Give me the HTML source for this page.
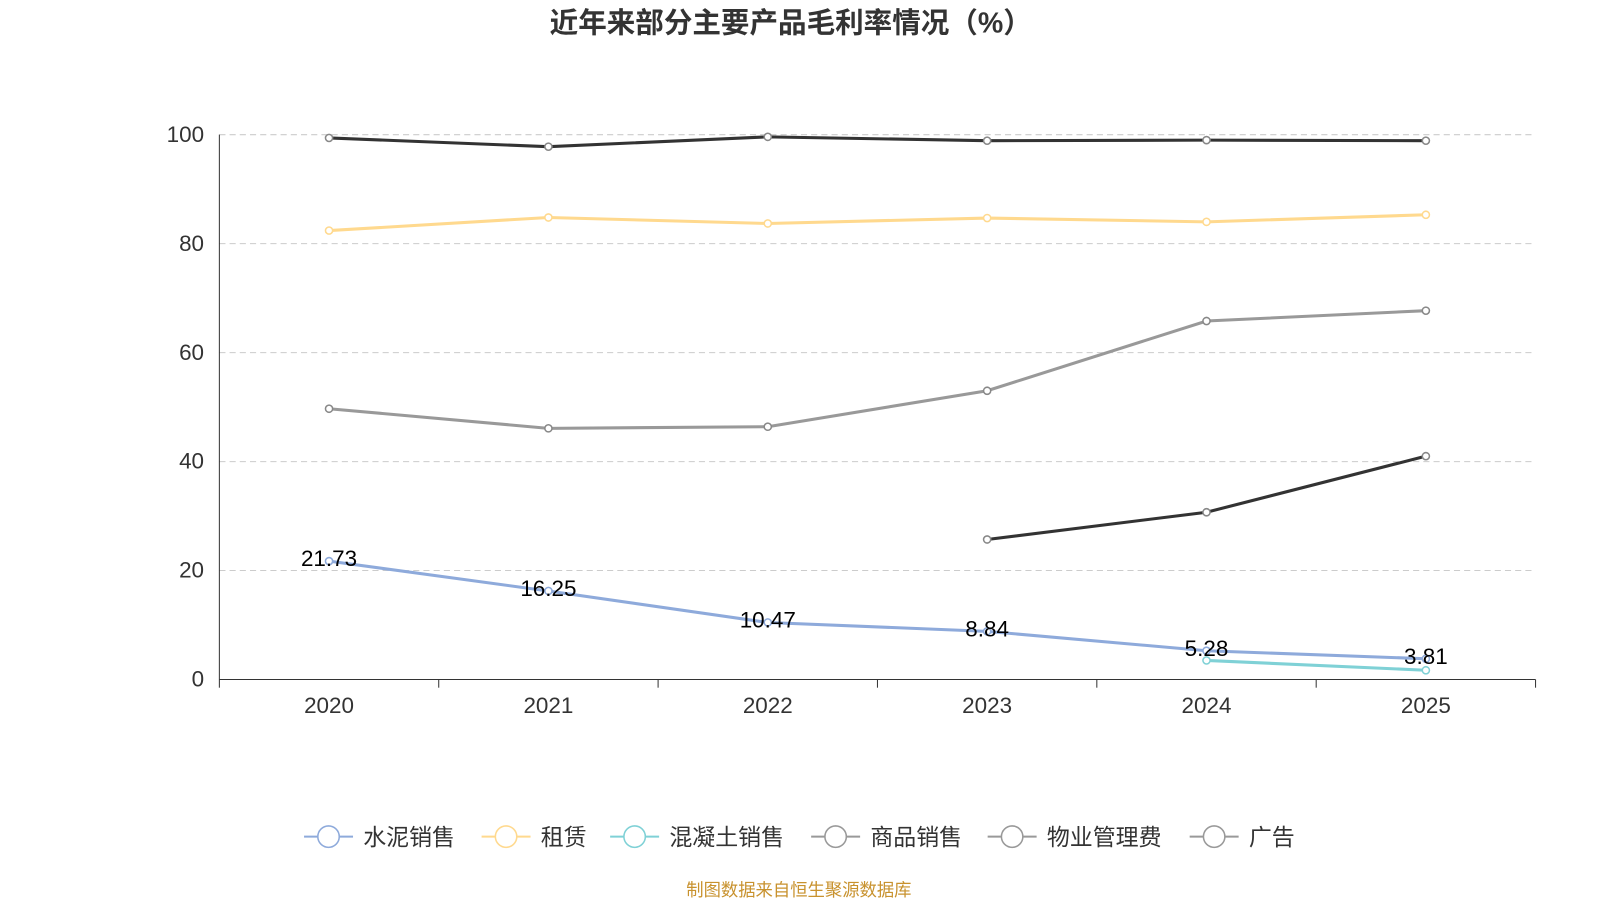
<!DOCTYPE html>
<html><head><meta charset="utf-8"><style>
body{margin:0;background:#fff;}
svg{display:block;font-family:"Liberation Sans","Noto Sans CJK SC",sans-serif;}
</style></head><body>
<svg id="c" width="1600" height="900">
<g transform="scale(1.0203)">
<text x="775" y="32" text-anchor="middle" font-size="28" font-weight="bold" fill="#333">近年来部分主要产品毛利率情况（%）</text>
<text x="783" y="878" text-anchor="middle" font-size="17" fill="#c8922e">制图数据来自恒生聚源数据库</text>
<g id="grid"></g><g id="axes"></g><g id="series"></g><g id="legend"></g>
</g>
</svg>
<script>
const categories=["2020","2021","2022","2023","2024","2025"];
const yTicks=[0,20,40,60,80,100];
const cement=[21.73,16.25,10.47,8.84,5.28,3.81];
const rent=[82.4,84.8,83.7,84.7,84.0,85.3];
const concrete=[null,null,null,null,3.5,1.7];
const goods=[99.4,97.8,99.6,98.9,99.0,98.9];
const property=[49.7,46.1,46.4,53.0,65.8,67.7];
const ads=[null,null,null,25.7,30.7,41.0];
const seriesNames=["水泥销售","租赁","混凝土销售","商品销售","物业管理费","广告"];
const ns="http://www.w3.org/2000/svg";
const X0=215,X1=1505,Y0=666,Y1=132;
const step=(X1-X0)/categories.length;
function xs(i){return X0+step*(i+0.5);}
function ys(v){return Y0-(v/100)*(Y0-Y1);}
function mk(t,a,p){const e=document.createElementNS(ns,t);for(const k in a)e.setAttribute(k,a[k]);p.appendChild(e);return e;}
const grid=document.getElementById('grid'),axes=document.getElementById('axes'),ser=document.getElementById('series'),leg=document.getElementById('legend');
yTicks.forEach(t=>{
 if(t>0){const l=mk('line',{x1:X0,x2:X1,y1:ys(t),y2:ys(t),stroke:'#ccc','stroke-dasharray':'6,4'},grid);
 
 }
 const tx=mk('text',{x:200,y:ys(t)+7,'text-anchor':'end','font-size':22,fill:'#333'},axes);tx.textContent=t;
 
 
});
const ya=mk('line',{x1:X0,x2:X0,y1:Y1,y2:Y0,stroke:'#333'},axes);


const xa=mk('line',{x1:X0,x2:X1,y1:Y0,y2:Y0,stroke:'#333'},axes);


for(let i=0;i<=categories.length;i++){mk('line',{x1:X0+step*i,x2:X0+step*i,y1:Y0,y2:Y0+8,stroke:'#333'},axes);}
categories.forEach((c,i)=>{const t=mk('text',{x:xs(i),y:699,'text-anchor':'middle','font-size':22,fill:'#333'},axes);t.textContent=c;
 
 });
const all=[[cement,'#8eaadb','#8eaadb'],[rent,'#ffd98e','#ffd98e'],[concrete,'#7fd1d6','#7fd1d6'],[goods,'#333333','#888'],[property,'#999999','#888'],[ads,'#333333','#888']];
all.forEach(([d,col,pc],si)=>{
 const g=mk('g',{},ser);
 
 
 let pts=[];d.forEach((v,i)=>{if(v!==null)pts.push([xs(i),ys(v)]);});
 mk('polyline',{points:pts.map(p=>p.join(',')).join(' '),fill:'none',stroke:col,'stroke-width':3},g);
 d.forEach((v,i)=>{if(v===null)return;const c=mk('circle',{cx:xs(i),cy:ys(v),r:3.5,fill:'#fff',stroke:pc,'stroke-width':1.5},g);
  
  });
});
cement.forEach((v,i)=>{const t=mk('text',{x:xs(i),y:ys(v)+5,'text-anchor':'middle','font-size':22,fill:'#000'},ser);t.textContent=v.toFixed(2);
 
 });
const legX=[298,472,598,795,968,1166];
const legCol=['#8eaadb','#ffd98e','#7fd1d6','#999','#999','#999'];
seriesNames.forEach((n,i)=>{
 const g=mk('g',{},leg);
 
 
 mk('line',{x1:legX[i],x2:legX[i]+48,y1:820,y2:820,stroke:legCol[i],'stroke-width':2},g);
 mk('circle',{cx:legX[i]+24,cy:820,r:10.5,fill:'#fff',stroke:legCol[i],'stroke-width':1.5},g);
 const t=mk('text',{x:legX[i]+58,y:828,'font-size':22.5,fill:'#333'},g);t.textContent=n;
});
</script>
</body></html>
